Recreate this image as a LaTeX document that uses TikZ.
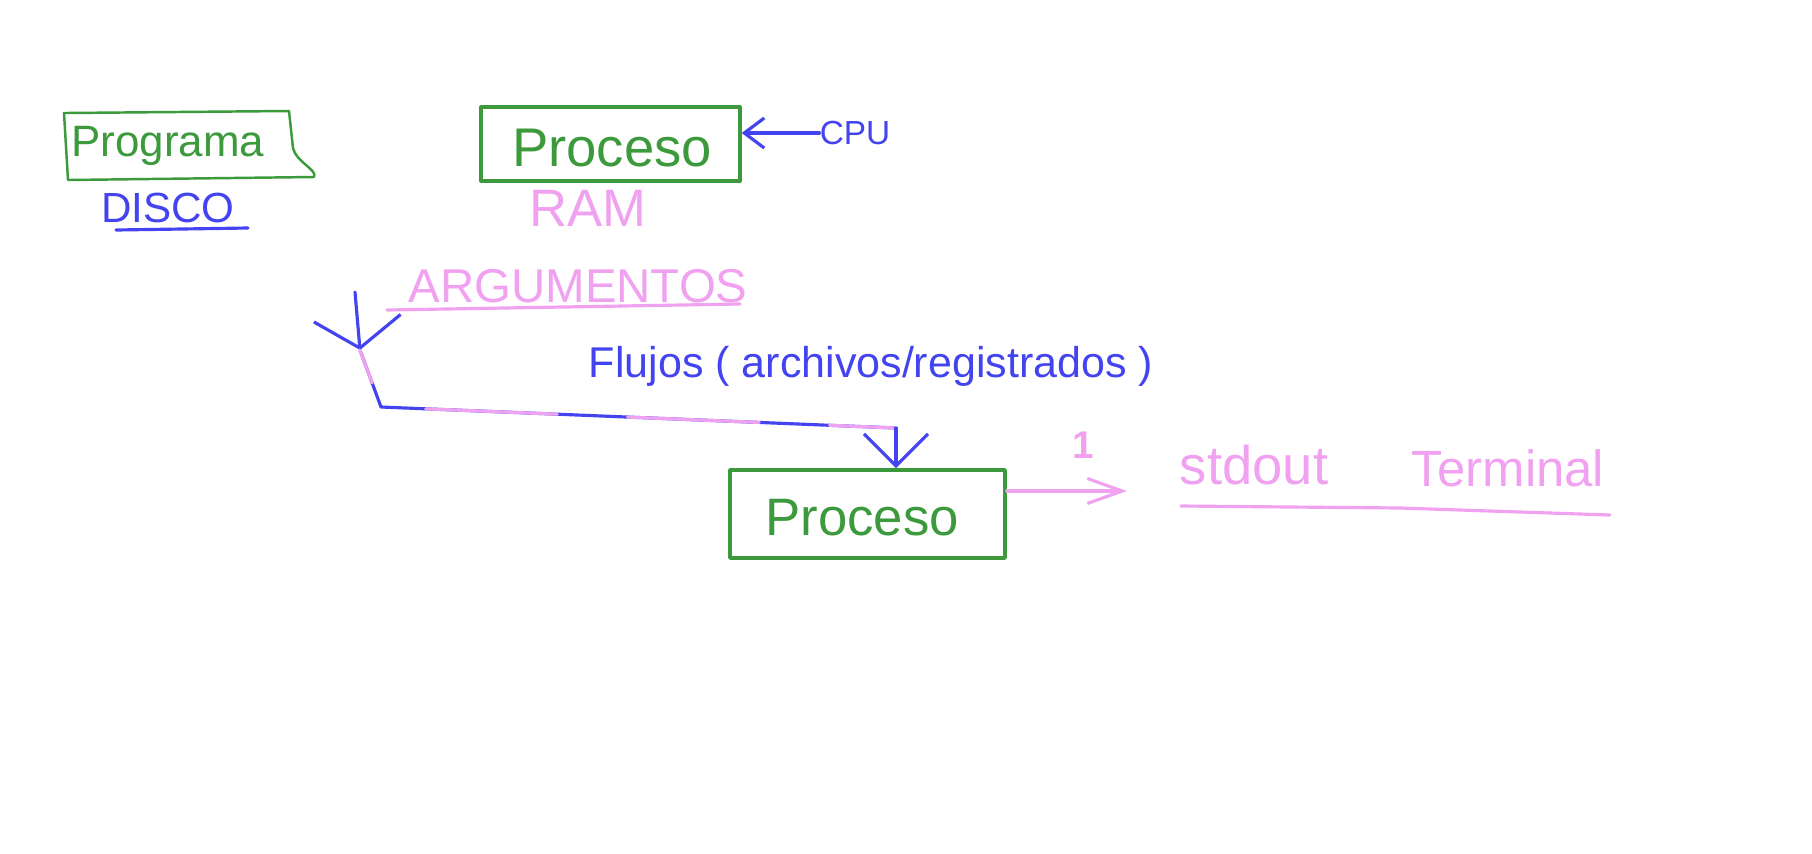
\documentclass[tikz,border=0pt]{standalone}
\usepackage{fontspec}
\setmainfont{Liberation Sans}
\usetikzlibrary{arrows.meta,calc}
\definecolor{gr}{HTML}{3C9A3C}
\definecolor{bl}{HTML}{4343F0}
\definecolor{pk}{HTML}{F0A2F0}
\tikzset{
  hbox/.style={draw=gr, line width=1.9pt, line join=round, inner sep=0pt},
  gtext/.style={text=gr, inner sep=0pt},
  btext/.style={text=bl, inner sep=0pt},
  ptext/.style={text=pk, inner sep=0pt},
  bline/.style={draw=bl, line width=1.8pt, line cap=round, line join=round},
  pline/.style={draw=pk, line width=1.8pt, line cap=round, line join=round},
}
\begin{document}
\begin{tikzpicture}[x=0.02cm,y=-0.02cm]
\useasboundingbox (0,0) rectangle (1812,853);
% Programa box (hand drawn, curved right corner)
\draw[draw=gr, line width=1.4pt, line join=round]
  (66,113) -- (289,111) -- (293,148) .. controls (296,162) and (318,170) .. (314,177)
  -- (68,180) -- (64,113) -- cycle;
\node[gtext, font=\fontsize{25}{29}\selectfont] (programa) at (168,146) {Programa};
\node[btext, font=\fontsize{24}{28}\selectfont] (disco) at (168,208) {DISCO};
\draw[bline] (116,230) -- (248,228);
% Proceso (RAM)
\node[hbox, minimum width=5.18cm, minimum height=1.48cm] (proc1) at (610.5,144) {};
\node[gtext, font=\fontsize{31}{35}\selectfont] (proc1t) at (612,148) {Proceso};
\node[ptext, font=\fontsize{30}{34}\selectfont] (ram) at (588,208) {RAM};
\node[btext, font=\fontsize{19}{22}\selectfont] (cpu) at (855,133) {CPU};
\draw[bline, -{Straight Barb[length=0.4cm,width=0.6cm]}] (cpu.west) -- (proc1.east |- cpu.west);
% Argumentos
\node[ptext, font=\fontsize{27}{31}\selectfont] (arg) at (578,286) {ARGUMENTOS};
\draw[pline] (387,310) -- (740,304);
\node[btext, font=\fontsize{24.5}{28}\selectfont] (flujos) at (871,366) {Flujos ( archivos/registrados )};
% connector
\coordinate (argtop) at (355,292);
\coordinate (vapex) at (360,350);
\coordinate (c1) at (381,407);
\coordinate (c2) at (896,428);
\draw[bline, -{Straight Barb[length=0.6cm,width=1.74cm]}] (argtop) -- (vapex);
\draw[bline] (vapex) -- (c1) -- (c2);
\draw[pline, dash pattern=on 75 off 40, dash phase=-60] (vapex) -- (c1) -- (c2);
% Proceso 2
\node[hbox, line width=2.1pt, minimum width=5.5cm, minimum height=1.76cm] (proc2) at (867.5,514) {};
\node[gtext, font=\fontsize{30}{34}\selectfont] (proc2t) at (862,518) {Proceso};
\draw[bline, -{Straight Barb[length=0.64cm,width=1.28cm]}] (c2) -- (proc2.north -| c2);
% stdout
\coordinate (outend) at (1127,491);
\draw[pline, -{Straight Barb[length=0.7cm,width=0.5cm]}] ($(proc2.east)+(0,-23)$) -- (outend);
\node[ptext, font=\bfseries\fontsize{22}{26}\selectfont] (one) at (1083,445) {1};
\node[ptext, font=\fontsize{31}{35}\selectfont] (stdout) at (1254,465) {stdout};
\node[ptext, font=\fontsize{29}{33}\selectfont] (term) at (1508,468) {Terminal};
\draw[pline] (1181,506) -- (1400,508) -- (1610,515);
\end{tikzpicture}
\end{document}
